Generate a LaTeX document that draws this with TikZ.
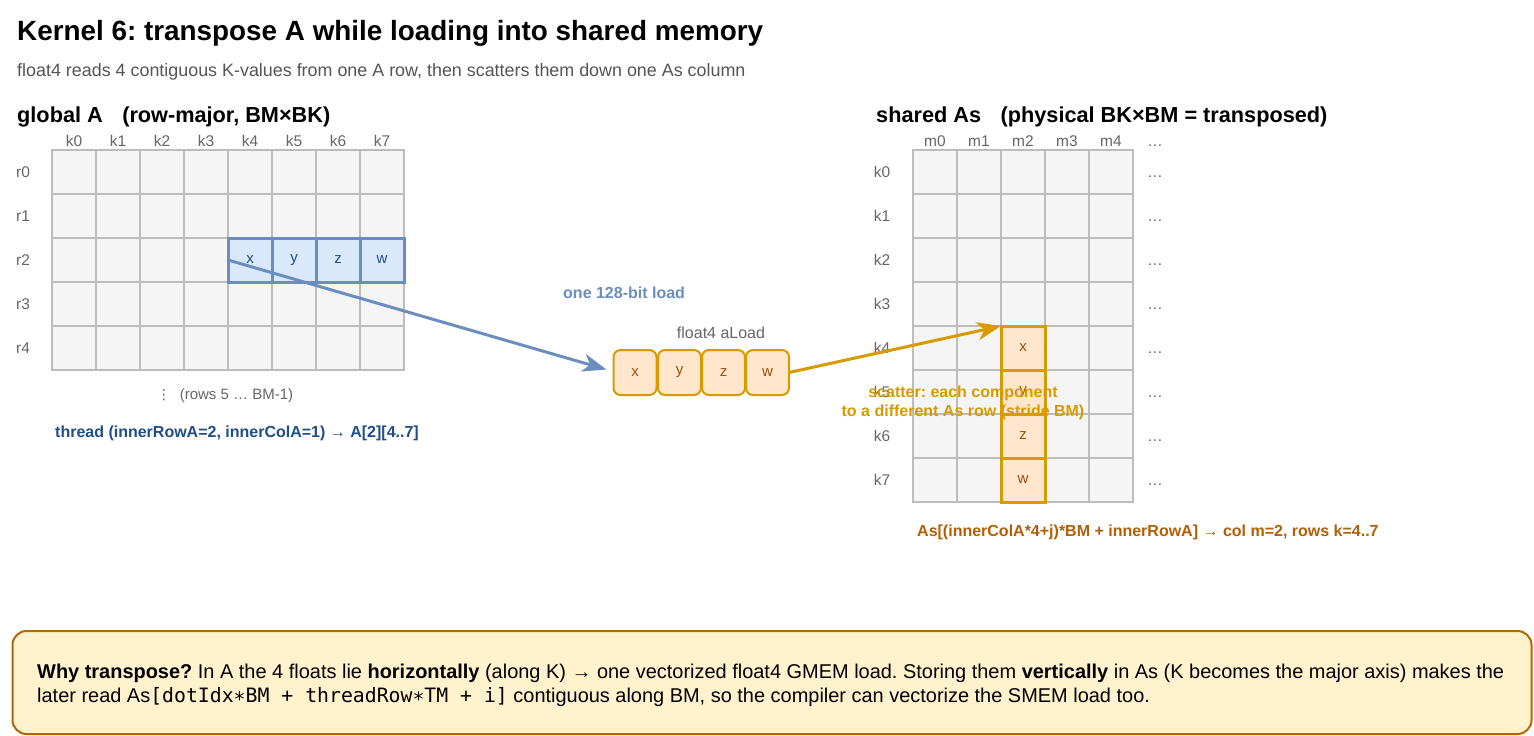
\documentclass[tikz,border=0pt]{standalone}
\usepackage{fontspec}
\setmainfont{Liberation Sans}
\newfontfamily\monofont{DejaVu Sans Mono}
\newfontfamily\dvfont{DejaVu Sans}
\usetikzlibrary{arrows.meta}
\frenchspacing
\definecolor{gridfill}{HTML}{F5F5F5}
\definecolor{gridline}{HTML}{BDBDBD}
\definecolor{bfill}{HTML}{DAE8FC}
\definecolor{bline}{HTML}{6C8EBF}
\definecolor{ofill}{HTML}{FFE6CC}
\definecolor{oline}{HTML}{D79B00}
\definecolor{otext}{HTML}{99500A}
\definecolor{threadblue}{HTML}{1F4E89}
\definecolor{asbrown}{HTML}{B45F06}
\definecolor{notefill}{HTML}{FFF2CC}
\definecolor{noteline}{HTML}{B46504}
\definecolor{greytext}{HTML}{666666}
\definecolor{subgrey}{HTML}{555555}
\tikzset{
  cell/.style={draw=gridline, fill=gridfill, line width=1.6pt, minimum size=44pt, inner sep=0pt, outer sep=0pt},
  bcell/.style={draw=bline, fill=bfill, line width=3pt, minimum size=44pt, inner sep=0pt, outer sep=0pt, text=threadblue, font=\fontsize{15}{17}\selectfont},
  ocell/.style={draw=oline, fill=ofill, line width=3pt, minimum size=44pt, inner sep=0pt, outer sep=0pt, text=otext, font=\fontsize{15}{17}\selectfont},
  lbox/.style={draw=oline, fill=ofill, line width=2pt, rounded corners=7pt, minimum width=43pt, minimum height=45pt, inner sep=0pt, outer sep=0pt, text=otext, font=\fontsize{15}{17}\selectfont},
  axlab/.style={text=greytext, font=\fontsize{15.5}{18}\selectfont, inner sep=0pt},
  heading/.style={font=\bfseries\fontsize{21.7}{24}\selectfont, anchor=base west, inner sep=0pt},
  labbold/.style={inner sep=0pt, font=\bfseries\fontsize{16}{19}\selectfont},
  blueArrow/.style={draw=bline, line width=3pt, -{Stealth[length=24pt,width=18pt,inset=7pt]}},
  orangeArrow/.style={draw=oline, line width=3pt, -{Stealth[length=24pt,width=18pt,inset=7pt]}},
}
\begin{document}
\begin{tikzpicture}[x=1pt,y=-1pt]
\useasboundingbox (0,0) rectangle (1534,736);
\fill[white] (0,0) rectangle (1534,736);

% title
\node[anchor=base west, inner sep=0pt, font=\bfseries\fontsize{27.85}{32}\selectfont] (title) at (17,40) {Kernel 6: transpose A while loading into shared memory};
\node[anchor=base west, inner sep=0pt, text=subgrey, font=\fontsize{17.9}{21}\selectfont] (subtitle) at (17,76) {float4 reads 4 contiguous K-values from one A row, then scatters them down one As column};

% headings
\node[heading] (headA) at (17,122) {global A\hspace{0.9em}(row-major, BM×BK)};
\node[heading] (headAs) at (876,122) {shared As\hspace{0.9em}(physical BK×BM = transposed)};

% left grid
\foreach \r in {0,...,4}{
  \foreach \c in {0,...,7}{
    \node[cell] (a\r\c) at ({74+44*\c},{172+44*\r}) {};
  }
  \node[axlab] (ra\r) at (23,{172+44*\r}) {r\r};
}
\foreach \c in {0,...,7}{
  \node[axlab] (ka\c) at ({74+44*\c},141) {k\c};
}
\node[bcell] (ax) at (a24) {x};
\node[bcell] (ay) at (a25) {y};
\node[bcell] (az) at (a26) {z};
\node[bcell] (aw) at (a27) {w};

\node[axlab, font=\fontsize{15}{18}\selectfont] (rows) at (225,396) {{\dvfont\fontsize{14}{15}\selectfont ⋮}\hspace{0.6em}(rows 5 … BM-1)};
\node[labbold, text=threadblue] (thread) at (237,433) {thread (innerRowA=2, innerColA=1) → A[2][4..7]};

% right grid
\foreach \r in {0,...,7}{
  \foreach \c in {0,...,4}{
    \node[cell] (s\r\c) at ({935+44*\c},{172+44*\r}) {};
  }
  \node[axlab] (ks\r) at (882,{172+44*\r}) {k\r};
  \node[axlab] (ds\r) at (1155,{172+44*\r}) {\vphantom{k0}…};
}
\foreach \c in {0,...,4}{
  \node[axlab] (ms\c) at ({935+44*\c},141) {m\c};
}
\node[axlab] (dm) at (1155,141) {\vphantom{m0}…};
\node[ocell] (sx) at (s42) {x};
\node[ocell] (sy) at (s52) {y};
\node[ocell] (sz) at (s62) {z};
\node[ocell] (sw) at (s72) {w};

% float4 register
\node[axlab, font=\fontsize{16}{18}\selectfont] (aload) at (721,333) {float4 aLoad};
\node[lbox] (fx) at (635,372.5) {x};
\node[lbox] (fy) at (679.5,372.5) {y};
\node[lbox] (fz) at (723.5,372.5) {z};
\node[lbox] (fw) at (767.5,372.5) {w};
\node[labbold, anchor=west, text=bline] (load128) at (563,293) {one 128-bit load};

% arrows
\draw[blueArrow] (ax.west) -- ([xshift=-7pt,yshift=3pt]fx.west);
\draw[orangeArrow] (fw.east) -- (sx.north west);

\node[labbold, align=center, text=oline] (scatter) at (963,402.5) {scatter: each component\\to a different As row (stride BM)};
\node[labbold, anchor=west, text=asbrown] (asidx) at (917,532) {As[(innerColA*4+j)*BM + innerRowA] → col m=2, rows k=4..7};

% note box
\node[draw=noteline, fill=notefill, line width=2pt, rounded corners=14pt, minimum width=1519pt, minimum height=103pt, inner sep=0pt] (note) at (772,682.5) {};
\node[anchor=west, inner sep=0pt, align=left, font=\fontsize{19.95}{24}\selectfont] (notetext) at (37,685) {{\bfseries Why transpose?} In A the 4 floats lie {\bfseries horizontally} (along K) → one vectorized float4 GMEM load. Storing them {\bfseries vertically} in As (K becomes the major axis) makes the\\later read As{\monofont\fontsize{19.8}{24}\selectfont [dotIdx∗BM + threadRow∗TM + i]} contiguous along BM, so the compiler can vectorize the SMEM load too.};
\end{tikzpicture}
\end{document}
